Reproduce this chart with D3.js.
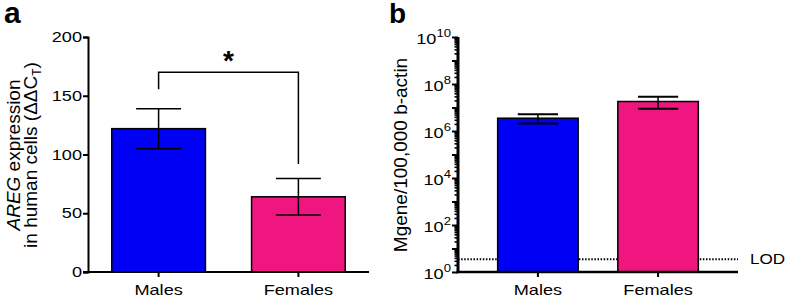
<!DOCTYPE html>
<html><head><meta charset="utf-8">
<script src="https://cdn.jsdelivr.net/npm/d3@7"></script>
<style>
body{margin:0;background:#fff;}
svg{display:block;font-family:"Liberation Sans",Arial,sans-serif;}
</style></head>
<body><svg id="c" width="787" height="298"></svg>
<script>
// ---- data ----
const categories = ["Males", "Females"];
const colors = ["#0000f4", "#f0167f"];
// panel a: AREG expression (ΔΔCT)
const arengMean = [122, 64];
const arengErr = [17, 15.5];
const aTicks = [0, 50, 100, 150, 200];
const sigBracket = [170, 155.5, 92]; // top, left leg end, right leg end
const sigLabel = "*";
// panel b: Mgene/100,000 b-actin
const bMean = [3.5e6, 1.8e7];
const bUpper = [5.2e6, 2.9e7];
const bLower = [2.1e6, 8.9e6];
const bTickExp = [0, 2, 4, 6, 8, 10];
const lod = 3.5;

const svg = d3.select("#c");
const SX = 1.25; // horizontal stretch of tick text
const yTop = 37, yBot = 272;

// ================= Panel a =================
const ax0 = 88, ax1 = 369;
const xa = d3.scaleBand().domain(categories).range([ax0, ax1]).paddingInner(0.33).paddingOuter(0.17);
const ya = d3.scaleLinear().domain([0, 200]).range([yBot, yTop]);

const ga = svg.append("g");
ga.selectAll("rect.bar").data(categories).join("rect")
  .attr("x", d => xa(d)).attr("width", xa.bandwidth())
  .attr("y", (d,i) => ya(arengMean[i])).attr("height", (d,i) => ya(0) - ya(arengMean[i]))
  .attr("fill", (d,i) => colors[i]).attr("stroke", "#000").attr("stroke-width", 1.5);
const capA = xa.bandwidth() * 0.48;
categories.forEach((c, i) => {
  const cx = xa(c) + xa.bandwidth()/2;
  const y1 = ya(arengMean[i] + arengErr[i]), y2 = ya(arengMean[i] - arengErr[i]);
  ga.append("line").attr("x1", cx).attr("x2", cx).attr("y1", y1).attr("y2", y2).attr("stroke","#000").attr("stroke-width",1.5);
  [y1, y2].forEach(y => ga.append("line").attr("x1", cx-capA/2).attr("x2", cx+capA/2).attr("y1", y).attr("y2", y).attr("stroke","#000").attr("stroke-width",1.5));
});
{
  const cxL = xa(categories[0]) + xa.bandwidth()/2, cxR = xa(categories[1]) + xa.bandwidth()/2;
  ga.append("path").attr("fill","none").attr("stroke","#000").attr("stroke-width",1.5)
    .attr("d", `M${cxL},${ya(sigBracket[1])}V${ya(sigBracket[0])}H${cxR}V${ya(sigBracket[2])}`);
  ga.append("text").attr("x", (cxL+cxR)/2).attr("y", ya(sigBracket[0]) - 2)
    .attr("text-anchor","middle").attr("font-size", 28).attr("font-weight","bold").text(sigLabel);
}
const yAxA = ga.append("g").attr("transform", `translate(${ax0},0)`)
  .call(d3.axisLeft(ya).tickValues(aTicks).tickSize(5).tickPadding(5));
const xAxA = ga.append("g").attr("transform", `translate(0,${yBot})`)
  .call(d3.axisBottom(xa).tickSize(5).tickPadding(8).tickSizeOuter(0));
[yAxA, xAxA].forEach(g => {
  g.select(".domain").attr("stroke-width", 2);
  g.selectAll(".tick line").attr("stroke-width", 2);
  g.selectAll("text").attr("font-size", 14.5).attr("fill","#000").attr("font-family","Liberation Sans, Arial");
});
yAxA.selectAll(".tick text").attr("x", -6/SX).attr("transform", `scale(${SX},1)`);
xAxA.selectAll(".tick text").attr("transform", `scale(${SX},1)`);
xAxA.select(".domain").attr("d", `M${ax0-5},0H${ax1}`);

{
  const t1 = ga.append("text").attr("transform", `translate(20,155) rotate(-90)`).attr("text-anchor","middle").attr("font-size",19);
  t1.append("tspan").attr("font-style","italic").text("AREG");
  t1.append("tspan").text(" expression");
  const t2 = ga.append("text").attr("transform", `translate(37,155) rotate(-90)`).attr("text-anchor","middle").attr("font-size",19);
  t2.append("tspan").text("in human cells (ΔΔC");
  t2.append("tspan").attr("font-size",12).attr("dy",4).text("T");
  t2.append("tspan").attr("dy",-4).text(")");
}
svg.append("text").attr("x", 4).attr("y", 23).attr("font-size", 30).attr("font-weight","bold").text("a");

// ================= Panel b =================
const bx0 = 458, bx1 = 738;
const xb = d3.scaleBand().domain(categories).range([bx0, bx1]).paddingInner(0.33).paddingOuter(0.33);
const yb = d3.scaleLog().domain([1, 1e10]).range([yBot, yTop]);
const gb = svg.append("g");

gb.append("line").attr("x1", bx0).attr("x2", bx1).attr("y1", yb(lod)).attr("y2", yb(lod))
  .attr("stroke","#000").attr("stroke-width",2).attr("stroke-dasharray","1.5,1.6");
gb.append("text").attr("x", 750/1.22).attr("y", yb(lod)+5).attr("transform", `scale(1.22,1)`)
  .attr("font-size",14).text("LOD");

gb.selectAll("rect.bar").data(categories).join("rect")
  .attr("x", d => xb(d)).attr("width", xb.bandwidth())
  .attr("y", (d,i) => yb(bMean[i])).attr("height", (d,i) => yb(1) - yb(bMean[i]))
  .attr("fill", (d,i) => colors[i]).attr("stroke", "#000").attr("stroke-width", 1.5);
const capB = xb.bandwidth() * 0.5;
categories.forEach((c, i) => {
  const cx = xb(c) + xb.bandwidth()/2;
  const y1 = yb(bUpper[i]), y2 = yb(bLower[i]);
  gb.append("line").attr("x1", cx).attr("x2", cx).attr("y1", y1).attr("y2", y2).attr("stroke","#000").attr("stroke-width",1.5);
  [y1, y2].forEach(y => gb.append("line").attr("x1", cx-capB/2).attr("x2", cx+capB/2).attr("y1", y).attr("y2", y).attr("stroke","#000").attr("stroke-width",2));
});

const minorVals = [];
for (let e = 0; e < 10; e++) for (let m = 2; m <= 9; m++) minorVals.push(m * Math.pow(10, e));
const majorVals = d3.range(0, 11).map(e => Math.pow(10, e));
const yAxB = gb.append("g").attr("transform", `translate(${bx0},0)`);
yAxB.call(d3.axisLeft(yb).tickValues(minorVals).tickSize(3.5).tickFormat(""));
yAxB.selectAll(".tick line").attr("stroke-width", 1.6);
yAxB.select(".domain").remove();
const yAxB2 = gb.append("g").attr("transform", `translate(${bx0},0)`);
yAxB2.call(d3.axisLeft(yb).tickValues(majorVals).tickSize(6).tickFormat(""));
yAxB2.selectAll(".tick line").attr("stroke-width", 2);
yAxB2.select(".domain").attr("stroke-width", 3).attr("d", `M0,${yTop}V${yBot}`);
const lab = gb.append("g").selectAll("text").data(bTickExp).join("text")
  .attr("transform", d => `translate(${bx0-7},${yb(Math.pow(10,d))+7}) scale(${SX},1)`)
  .attr("text-anchor","end").attr("font-size",14.5);
lab.append("tspan").text("10");
lab.append("tspan").attr("font-size",10.5).attr("dy",-7).text(d => d);

const xAxB = gb.append("g").attr("transform", `translate(0,${yBot})`)
  .call(d3.axisBottom(xb).tickSize(5).tickPadding(8).tickSizeOuter(0));
xAxB.select(".domain").attr("stroke-width", 2.5).attr("d", `M${bx0-1.5},0H${bx1}`);
xAxB.selectAll(".tick line").attr("stroke-width", 2);
xAxB.selectAll("text").attr("font-size", 14.5).attr("fill","#000").attr("font-family","Liberation Sans, Arial")
  .attr("transform", `scale(${SX},1)`);

gb.append("text").attr("transform", `translate(407,155) rotate(-90)`).attr("text-anchor","middle")
  .attr("font-size",19).text("Mgene/100,000 b-actin");
svg.append("text").attr("x", 389).attr("y", 23).attr("font-size", 28).attr("font-weight","bold").text("b");
</script></body></html>
